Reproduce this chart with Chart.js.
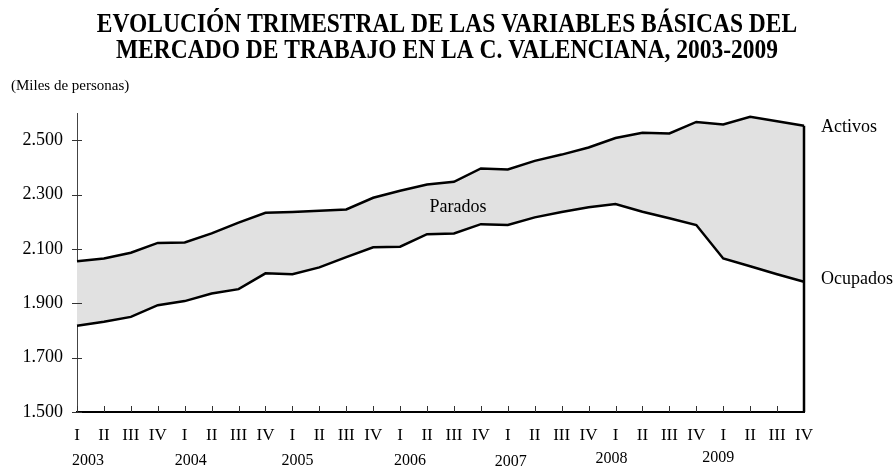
<!DOCTYPE html>
<html>
<head>
<meta charset="utf-8">
<script src="https://cdn.jsdelivr.net/npm/chart.js@4.4.1/dist/chart.umd.min.js"></script>
<style>
  html, body { margin: 0; padding: 0; background: #fff; }
  #wrap { width: 894px; height: 466px; }
</style>
</head>
<body>
<div id="wrap"><canvas id="lineChart"></canvas></div>
<script>
// data (miles de personas)
const years = ['2003', '2004', '2005', '2006', '2007', '2008', '2009'];
const quarters = ['I', 'II', 'III', 'IV'];
const categories = years.flatMap(y => quarters.map(q => q + ' ' + y));
const activos = [2055, 2065, 2086, 2122, 2124, 2157, 2197, 2233, 2236, 2240, 2245, 2288, 2314, 2337,
                 2347, 2396, 2392, 2424, 2447, 2473, 2508, 2527, 2525, 2567, 2558, 2586, 2570, 2553];
const ocupados = [1817, 1832, 1850, 1893, 1908, 1936, 1952, 2010, 2007, 2032, 2070, 2106, 2108, 2154,
                  2157, 2191, 2188, 2216, 2236, 2253, 2265, 2237, 2213, 2188, 2065, 2036, 2007, 1979];
const yTicks = [1500, 1700, 1900, 2100, 2300, 2500];

const serif = '"Liberation Serif", "Times New Roman", serif';
const fmt = v => String(v).replace(/\B(?=(\d{3})+(?!\d))/g, '.');

// small nudges for the year captions, as in the original
const yearShift = [[11, 0], [6, 0], [5, 0], [10, 0], [3, 1], [-4, -2], [-5, -3]];

const decor = {
    id: 'decor',
    afterDraw(chart) {
        const { ctx, chartArea, scales: { x, y } } = chart;
        const seg = (x1, y1, x2, y2) => { ctx.beginPath(); ctx.moveTo(x1, y1); ctx.lineTo(x2, y2); ctx.stroke(); };
        ctx.save();

        // tick marks
        ctx.strokeStyle = '#333';
        ctx.lineWidth = 1;
        yTicks.forEach(v => {
            const py = Math.round(y.getPixelForValue(v)) + 0.5;
            seg(chartArea.left - 5, py, chartArea.left + 5, py);
        });
        categories.forEach((c, i) => {
            const px = Math.round(x.getPixelForValue(i)) + 0.5;
            seg(px, chartArea.bottom, px, chartArea.bottom - 6);
        });

        // closing line at the last quarter
        const last = categories.length - 1;
        ctx.strokeStyle = '#000';
        ctx.lineWidth = 2.5;
        seg(x.getPixelForValue(last), y.getPixelForValue(activos[last]), x.getPixelForValue(last), chartArea.bottom);

        // titles (the original face is a bit taller)
        ctx.fillStyle = '#000';
        ctx.textAlign = 'center';
        ctx.textBaseline = 'alphabetic';
        ctx.font = 'bold 23.5px ' + serif;
        ctx.save();
        ctx.scale(1, 1.13);
        ctx.fillText('EVOLUCIÓN TRIMESTRAL DE LAS VARIABLES BÁSICAS DEL', 447, 31.5 / 1.13);
        ctx.fillText('MERCADO DE TRABAJO EN LA C. VALENCIANA, 2003-2009', 447, 58 / 1.13);
        ctx.restore();
        ctx.textAlign = 'left';
        ctx.font = '15px ' + serif;
        ctx.fillText('(Miles de personas)', 11, 90);

        // years
        ctx.textAlign = 'center';
        ctx.font = '16px ' + serif;
        years.forEach((yr, i) => {
            const px = x.getPixelForValue(i * 4) + yearShift[i][0];
            ctx.fillText(yr, px, 465 + yearShift[i][1]);
        });

        // series names
        ctx.font = '18px ' + serif;
        ctx.textBaseline = 'middle';
        ctx.textAlign = 'left';
        const lx = x.getPixelForValue(last) + 17;
        ctx.fillText('Activos', lx, y.getPixelForValue(activos[last]) + 1);
        ctx.fillText('Ocupados', lx, y.getPixelForValue(ocupados[last]) - 3);
        ctx.textAlign = 'center';
        const mid = 14;
        ctx.fillText('Parados', x.getPixelForValue(mid) + 4,
            (y.getPixelForValue(activos[mid]) + y.getPixelForValue(ocupados[mid])) / 2);
        ctx.restore();
    }
};

const ctx = document.getElementById('lineChart').getContext('2d');
new Chart(ctx, {
    type: 'line',
    data: {
        labels: categories,
        datasets: [{
            label: 'Activos',
            data: activos,
            borderColor: '#000',
            borderWidth: 2.5,
            pointRadius: 0,
            tension: 0,
            fill: '+1',
            backgroundColor: '#e1e1e1',
        }, {
            label: 'Ocupados',
            data: ocupados,
            borderColor: '#000',
            borderWidth: 2.5,
            pointRadius: 0,
            tension: 0,
            fill: false,
        }],
    },
    options: {
        responsive: true,
        maintainAspectRatio: false,
        animation: false,
        layout: { padding: { top: 113, right: 90, left: 0, bottom: 0 } },
        plugins: {
            legend: { display: false },
            tooltip: { enabled: false },
            filler: { drawTime: 'beforeDatasetsDraw' },
        },
        scales: {
            x: {
                offset: false,
                grid: { display: false, drawTicks: false },
                border: { display: true, color: '#000', width: 2 },
                ticks: {
                    autoSkip: false,
                    maxRotation: 0,
                    padding: 13,
                    color: '#000',
                    font: { family: serif, size: 17 },
                    callback: (v, i) => categories[i].split(' ')[0],
                },
                afterFit: s => { s.height = 54; },
            },
            y: {
                min: 1500,
                max: 2600,
                grid: { display: false, drawTicks: false },
                border: { display: true, color: '#444', width: 1 },
                afterBuildTicks: s => { s.ticks = yTicks.map(v => ({ value: v })); },
                ticks: {
                    padding: 14,
                    color: '#000',
                    font: { family: serif, size: 18 },
                    callback: v => fmt(v),
                },
                afterFit: s => { s.width = 77; },
            },
        },
    },
    plugins: [decor],
});
</script>
</body>
</html>
